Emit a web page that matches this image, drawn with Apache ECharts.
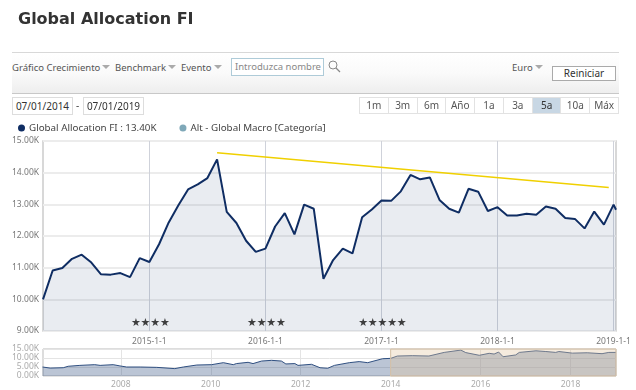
<!DOCTYPE html>
<html>
<head>
<meta charset="utf-8">
<title>Global Allocation FI</title>
<script src="https://cdn.jsdelivr.net/npm/echarts@6/dist/echarts.min.js"></script>
<style>
body { margin: 0; background: #fff; font-family: "Noto Sans", sans-serif; color: #444; }
#page { position: relative; width: 636px; height: 390px; overflow: hidden; }
#chart { position: absolute; left: 0; top: 0; width: 636px; height: 390px; }
.abs { position: absolute; white-space: nowrap; }
#title { left: 18px; top: 9px; font-family: "DejaVu Sans", sans-serif; font-size: 16px; font-weight: bold; color: #333; }
#bar { left: 12px; top: 52px; width: 607px; height: 40px; border-top: 1px solid #d8d8d8; border-bottom: 1px solid #c8c8c8;
    background: linear-gradient(#fff, #fafafa 50%, #eeeeee); }
.menu { top: 61px; font-size: 9.5px; color: #555; }
.arrow { display: inline-block; width: 0; height: 0; margin-left: 2px; vertical-align: 2px;
    border-left: 4px solid transparent; border-right: 4px solid transparent; border-top: 4px solid #aaa; }
#search { left: 231px; top: 58px; width: 91px; height: 16px; border: 1px solid #aecbd8; background: #fff;
    font-size: 9.5px; line-height: 16px; color: #888; text-indent: 3px; }
#reset { left: 552px; top: 66px; width: 62px; height: 13px; border: 1px solid #aaa; background: #fff;
    font-size: 10px; line-height: 13px; text-align: center; color: #333; }
.date { top: 97px; width: 59px; height: 16px; border: 1px solid #ddd; background: #fff;
    font-size: 10px; line-height: 16px; text-align: center; color: #333; }
#range { left: 359px; top: 97px; width: 260px; height: 17px; display: flex; border: 1px solid #e2e2e2; box-sizing: border-box; }
#range div { flex: 1; border-right: 1px solid #e2e2e2; font-size: 10px; line-height: 15px; text-align: center; color: #555; }
#range div:last-child { border-right: 0; }
#range div.on { background: #c8d7e4; color: #333; }
</style>
</head>
<body>
<div id="page">
    <div id="chart"></div>
    <div class="abs" id="title">Global Allocation FI</div>
    <div class="abs" id="bar"></div>
    <div class="abs menu" style="left:12px">Gráfico Crecimiento<span class="arrow"></span></div>
    <div class="abs menu" style="left:115px">Benchmark<span class="arrow"></span></div>
    <div class="abs menu" style="left:181px">Evento<span class="arrow"></span></div>
    <div class="abs" id="search">Introduzca nombre</div>
    <svg class="abs" style="left:328px;top:60px" width="13" height="13" viewBox="0 0 13 13">
        <circle cx="5" cy="5" r="4" fill="none" stroke="#888" stroke-width="1"/>
        <line x1="8" y1="8" x2="12" y2="12" stroke="#888" stroke-width="1.2"/>
    </svg>
    <div class="abs menu" style="left:512px">Euro<span class="arrow"></span></div>
    <div class="abs" id="reset">Reiniciar</div>
    <div class="abs date" style="left:12px">07/01/2014</div>
    <div class="abs" style="left:76px;top:98px;font-size:10px">-</div>
    <div class="abs date" style="left:83px">07/01/2019</div>
    <div class="abs" id="range"></div>
</div>
<script>
var rangeLabels = ['1m', '3m', '6m', 'Año', '1a', '3a', '5a', '10a', 'Máx'];
var activeRange = '5a';

// monthly values, in thousands
var mainValues = [
    10.00, 10.91, 10.99, 11.28, 11.41, 11.16, 10.79, 10.78, 10.83, 10.70,
    11.30, 11.18, 11.74, 12.43, 12.97, 13.47, 13.63, 13.83, 14.42, 12.76,
    12.41, 11.85, 11.50, 11.60, 12.30, 12.72, 12.05, 12.99, 12.86, 10.65,
    11.24, 11.60, 11.45, 12.59, 12.84, 13.12, 13.11, 13.41, 13.93, 13.79,
    13.85, 13.14, 12.86, 12.74, 13.49, 13.40, 12.79, 12.91, 12.65, 12.65,
    12.70, 12.67, 12.93, 12.86, 12.57, 12.54, 12.24, 12.77, 12.36, 12.99
];
var mainTail = [59.25, 12.83];
var trendLine = [[18, 14.63], [58.5, 13.53]];
var xTickIdx = [11, 23, 35, 47, 59];
var xTickLabels = ['2015-1-1', '2016-1-1', '2017-1-1', '2018-1-1', '2019-1-1'];
var starIdx = [9.6, 10.6, 11.6, 12.6, 21.6, 22.6, 23.6, 24.6, 33.1, 34.1, 35.1, 36.1, 37.1];
var starLevel = 9.25;

// overview chart: decimal year and value in thousands
var overviewYears = [
    2006.26, 2006.43, 2006.72, 2006.83, 2007.09, 2007.42, 2007.54, 2007.83, 2007.98, 2008.13,
    2008.43, 2008.80, 2009.20, 2009.39, 2009.69, 2010.02, 2010.28, 2010.50, 2010.57, 2010.83,
    2010.94, 2011.13, 2011.35, 2011.57, 2011.67, 2011.87, 2011.94, 2012.24, 2012.43, 2012.60,
    2012.75, 2013.08, 2013.30, 2013.49, 2013.82, 2014.00, 2014.15, 2014.48, 2014.85, 2015.19,
    2015.56, 2015.67, 2015.97, 2016.19, 2016.30, 2016.40, 2016.50, 2016.78, 2016.86, 2017.23,
    2017.45, 2017.67, 2017.74, 2018.04, 2018.37, 2018.70, 2018.85, 2019.01
];
var overviewValues = [
    5.0, 4.4, 4.6, 5.4, 5.9, 6.3, 5.9, 6.3, 5.6, 5.0,
    5.0, 4.8, 4.1, 5.0, 6.1, 6.3, 7.4, 6.3, 6.9, 7.6,
    6.9, 8.3, 8.7, 8.3, 6.7, 6.9, 5.9, 6.5, 4.6, 4.3,
    5.9, 7.4, 8.0, 7.4, 9.6, 9.8, 11.1, 11.3, 11.1, 13.1,
    14.4, 13.0, 11.5, 12.6, 12.2, 13.3, 10.7, 11.7, 13.1, 14.0,
    13.6, 13.1, 13.6, 12.7, 12.9, 12.4, 13.1, 13.1
];
var overviewTicks = [2008, 2010, 2012, 2014, 2016, 2018];
var selectedRange = [2014.0, 2019.01];

var rangeBox = document.getElementById('range');
rangeLabels.forEach(function (label) {
    var cell = document.createElement('div');
    cell.textContent = label;
    if (label == activeRange) {
        cell.className = 'on';
    }
    rangeBox.appendChild(cell);
});

var fmtK = function (v) {
    return v.toFixed(2) + 'K';
};

var mainData = mainValues.map(function (v, i) {
    return [i, v];
});
mainData.push(mainTail);

var overviewData = overviewYears.map(function (y, i) {
    return [y, overviewValues[i]];
});

var option = {
    animation: false,
    textStyle: { fontFamily: 'Noto Sans' },
    legend: {
        left: 13,
        top: 118,
        icon: 'circle',
        itemWidth: 7,
        itemHeight: 7,
        itemGap: 23,
        textStyle: { fontSize: 9.8, color: '#444', padding: [0, 0, 0, -1] },
        data: ['Global Allocation FI : 13.40K', 'Alt - Global Macro [Categoría]']
    },
    grid: [
        { left: 43, top: 141, width: 573, height: 190, show: true, backgroundColor: '#fff', borderColor: '#ccc', borderWidth: 1.5 },
        { left: 43, top: 349, width: 573, height: 27, show: true, backgroundColor: '#fff', borderColor: '#bbb', borderWidth: 1 }
    ],
    xAxis: [
        {
            type: 'value',
            gridIndex: 0,
            min: 0,
            max: 59.25,
            axisLine: { show: false },
            axisTick: { show: false, customValues: xTickIdx },
            splitLine: { show: true, lineStyle: { color: '#cfd2da', width: 1 } },
            axisLabel: {
                customValues: xTickIdx,
                fontSize: 8.5,
                color: '#777',
                margin: 6,
                formatter: function (v) {
                    return xTickLabels[xTickIdx.indexOf(v)];
                }
            }
        },
        {
            type: 'value',
            gridIndex: 1,
            min: 2006.27,
            max: 2019.01,
            axisLine: { show: false },
            axisTick: { show: false, customValues: overviewTicks },
            splitLine: { show: true, lineStyle: { color: '#e4e4e4', width: 1 } },
            axisLabel: {
                customValues: overviewTicks,
                fontSize: 8.5,
                color: '#aaa',
                margin: 4,
                formatter: function (v) {
                    return String(v);
                }
            }
        }
    ],
    yAxis: [
        {
            type: 'value',
            gridIndex: 0,
            min: 9,
            max: 15,
            interval: 1,
            axisLine: { show: false },
            axisTick: { show: false },
            splitLine: { lineStyle: { color: '#ececec', width: 2 } },
            axisLabel: { fontSize: 8.5, color: '#777', margin: 4, formatter: fmtK }
        },
        {
            type: 'value',
            gridIndex: 1,
            min: 0,
            max: 15,
            interval: 5,
            axisLine: { show: false },
            axisTick: { show: false },
            splitLine: { lineStyle: { color: '#e4e4e4', width: 1 } },
            axisLabel: { fontSize: 8.5, color: '#aaa', margin: 4, formatter: fmtK }
        }
    ],
    series: [
        {
            name: 'Global Allocation FI : 13.40K',
            type: 'line',
            xAxisIndex: 0,
            yAxisIndex: 0,
            data: mainData,
            symbol: 'none',
            color: '#0f2d63',
            lineStyle: { width: 2, color: '#0f2d63' },
            areaStyle: { color: 'rgba(60, 85, 130, 0.16)' },
            z: 3
        },
        {
            name: 'Alt - Global Macro [Categoría]',
            type: 'line',
            xAxisIndex: 0,
            yAxisIndex: 0,
            data: [],
            symbol: 'none',
            color: '#7fa8b8'
        },
        {
            name: 'Tendencia',
            type: 'line',
            xAxisIndex: 0,
            yAxisIndex: 0,
            data: trendLine,
            symbol: 'none',
            lineStyle: { width: 1.5, color: '#f0d000' },
            z: 4
        },
        {
            name: 'Estrellas',
            type: 'scatter',
            xAxisIndex: 0,
            yAxisIndex: 0,
            symbolSize: 1,
            itemStyle: { color: 'transparent' },
            data: starIdx.map(function (x) {
                return [x, starLevel];
            }),
            label: {
                show: true,
                position: 'inside',
                formatter: '★',
                fontSize: 11,
                color: '#111',
                fontFamily: 'DejaVu Sans'
            },
            z: 5
        },
        {
            name: 'Overview',
            type: 'line',
            xAxisIndex: 1,
            yAxisIndex: 1,
            data: overviewData,
            symbol: 'none',
            lineStyle: { width: 1, color: '#2f4f80' },
            areaStyle: { color: 'rgba(50, 80, 130, 0.48)' },
            markArea: {
                silent: true,
                z: 10,
                itemStyle: {
                    color: 'rgba(226, 198, 161, 0.35)',
                    borderColor: '#d8c3a8',
                    borderWidth: 1
                },
                data: [[
                    { xAxis: selectedRange[0], yAxis: 0 },
                    { xAxis: selectedRange[1], yAxis: 15 }
                ]]
            }
        }
    ]
};

var chart = echarts.init(document.getElementById('chart'));
chart.setOption(option);
</script>
</body>
</html>
